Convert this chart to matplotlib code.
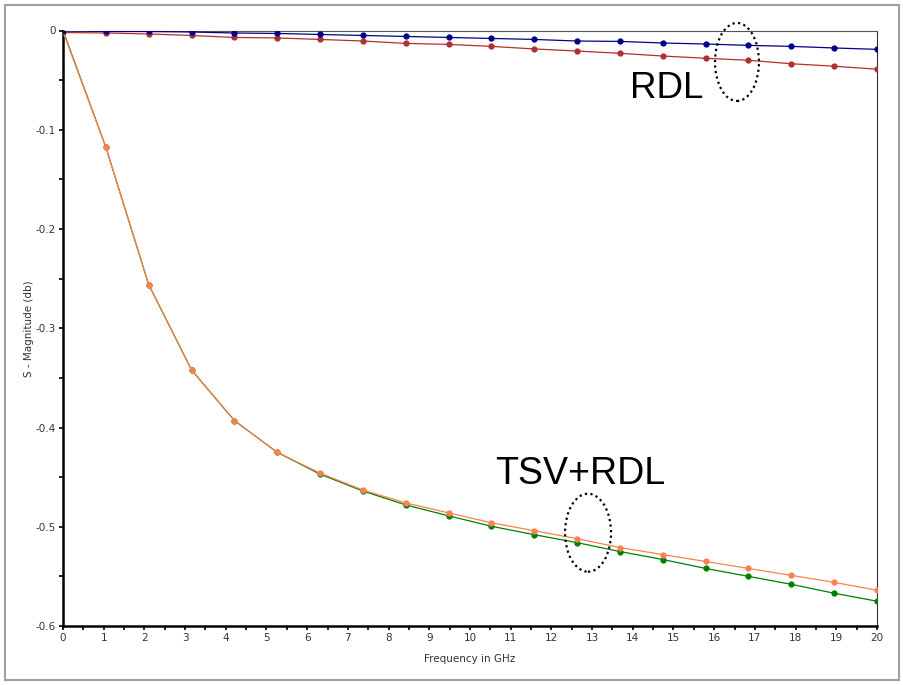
import numpy as np
import matplotlib
matplotlib.use('Agg')
import matplotlib.pyplot as plt
from matplotlib.patches import Ellipse, Rectangle
from matplotlib.ticker import MultipleLocator

# frequency points (20 samples from 0 to 20 GHz)
freq = np.linspace(0, 20, 20)

# RDL curves
rdl_blue = [0, -0.001, -0.001, -0.0015, -0.0025, -0.003, -0.004, -0.005, -0.006, -0.007,
            -0.008, -0.009, -0.0106, -0.011, -0.0126, -0.0136, -0.015, -0.016, -0.0176, -0.019]
rdl_red = [-0.002, -0.0025, -0.0035, -0.005, -0.007, -0.0075, -0.009, -0.0106, -0.013, -0.014,
           -0.016, -0.0186, -0.0207, -0.023, -0.0257, -0.028, -0.030, -0.0335, -0.036, -0.039]

# TSV+RDL curves
tsv_orange = [-0.001, -0.1175, -0.256, -0.342, -0.393, -0.425, -0.446, -0.463, -0.476, -0.486,
              -0.496, -0.504, -0.512, -0.521, -0.528, -0.535, -0.542, -0.549, -0.556, -0.564]
tsv_green = [0, -0.1175, -0.256, -0.342, -0.393, -0.425, -0.447, -0.464, -0.478, -0.489,
             -0.4995, -0.508, -0.516, -0.525, -0.533, -0.542, -0.550, -0.558, -0.567, -0.575]

fig = plt.figure(figsize=(9.04, 6.85), dpi=100)
ax = fig.add_axes([63 / 904, 1 - 626 / 685, 814 / 904, 595.5 / 685])

# outer gray frame
fig.patches.append(Rectangle((5 / 904, 5 / 685), 894 / 904, 675 / 685, transform=fig.transFigure,
                             fill=False, edgecolor='#a0a0a0', linewidth=1.5))

ax.plot(freq, tsv_green, color='#008000', lw=0.9, marker='o', ms=3.5, zorder=3)
ax.plot(freq, tsv_orange, color='#ff7f50', lw=0.9, marker='o', ms=3.5, zorder=4)
ax.plot(freq, rdl_red, color='#b03030', lw=0.9, marker='o', ms=3.5, zorder=3)
ax.plot(freq, rdl_blue, color='#00008b', lw=0.9, marker='o', ms=3.5, zorder=4)

ax.set_xlim(0, 20)
ax.set_ylim(-0.6, 0)
ax.xaxis.set_major_locator(MultipleLocator(1))
ax.xaxis.set_minor_locator(MultipleLocator(0.5))
ax.yaxis.set_major_locator(MultipleLocator(0.1))
ax.yaxis.set_minor_locator(MultipleLocator(0.05))
ax.set_yticks([0, -0.1, -0.2, -0.3, -0.4, -0.5, -0.6])
ax.set_yticklabels(['0', '-0.1', '-0.2', '-0.3', '-0.4', '-0.5', '-0.6'])
ax.tick_params(which='both', direction='out', length=3, width=1.2, labelsize=7.5,
               labelcolor='#333333', pad=2)

ax.spines['left'].set_linewidth(1.8)
ax.spines['bottom'].set_linewidth(1.8)
ax.spines['top'].set_linewidth(0.8)
ax.spines['right'].set_linewidth(0.8)
ax.spines['top'].set_color('#555555')
ax.spines['right'].set_color('#333333')

ax.set_xlabel('Frequency in GHz', fontsize=7.5, color='#333333', labelpad=8)
ax.set_ylabel('S - Magnitude (db)', fontsize=7.5, color='#333333', labelpad=1)

# annotations
ax.text(14.84, -0.058, 'RDL', fontsize=26.5, family='Liberation Sans', ha='center', va='center')
ax.text(12.7, -0.447, 'TSV+RDL', fontsize=27, family='Liberation Sans', ha='center', va='center')
ax.add_patch(Ellipse((16.56, -0.0317), 1.08, 0.0786, fill=False, linestyle=(0, (1, 1.5)),
                     linewidth=1.6, edgecolor='black', clip_on=False, zorder=5))
ax.add_patch(Ellipse((12.9, -0.506), 1.13, 0.0786, fill=False, linestyle=(0, (1, 1.5)),
                     linewidth=1.6, edgecolor='black', clip_on=False, zorder=5))

plt.savefig('out.png', dpi=100)
